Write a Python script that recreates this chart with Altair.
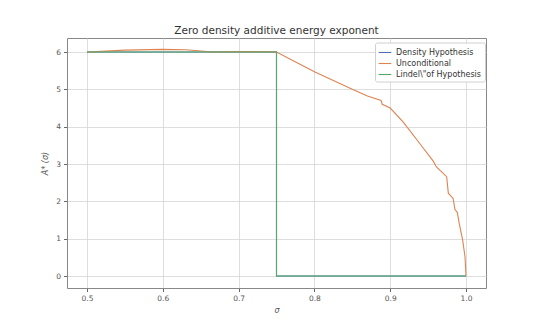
import altair as alt
import pandas as pd

# Density Hypothesis (hidden beneath the other curves)
dens_x = [0.5, 0.75, 0.75, 1.0]
dens_y = [6.0, 6.0, 0.0, 0.0]

# Unconditional
unc_x = [0.5, 0.55, 0.6, 0.63, 0.667, 0.7, 0.72, 0.75, 0.8, 0.85, 0.87, 0.888, 0.8895,
         0.9, 0.917, 0.939, 0.957, 0.961, 0.9745, 0.9767, 0.983, 0.9855, 0.9886, 0.991,
         0.9956, 0.9987, 1.0]
unc_y = [6.0, 6.05, 6.07, 6.06, 6.0, 6.01, 6.01, 6.0, 5.47, 5.0, 4.82, 4.7, 4.6,
         4.5, 4.13, 3.55, 3.07, 2.92, 2.66, 2.22, 2.08, 1.78, 1.7, 1.42,
         0.96, 0.52, 0.0]

# Lindelöf Hypothesis
lind_x = [0.5, 0.75, 0.75, 1.0]
lind_y = [6.0, 6.0, 0.0, 0.0]

series_names = ["Density Hypothesis", "Unconditional", 'Lindel\\"of Hypothesis']
colors = ["#4c72b0", "#dd8452", "#55a868"]

rows = []
for name, xs, ys in zip(series_names, [dens_x, unc_x, lind_x], [dens_y, unc_y, lind_y]):
    for i, (a, b) in enumerate(zip(xs, ys)):
        rows.append({"series": name, "sigma": a, "A": b, "ord": i})
df = pd.DataFrame(rows)

chart = alt.Chart(df).mark_line(strokeWidth=1.1).encode(
    x=alt.X("sigma:Q", title="σ",
            scale=alt.Scale(domain=[0.4736, 1.0264], nice=False, zero=False),
            axis=alt.Axis(values=[0.5, 0.6, 0.7, 0.8, 0.9, 1.0], format=".1f",
                          titleFontStyle="italic")),
    y=alt.Y("A:Q", title="A* (σ)",
            scale=alt.Scale(domain=[-0.32, 6.375], nice=False, zero=False),
            axis=alt.Axis(values=[0, 1, 2, 3, 4, 5, 6], format="d",
                          titleFontStyle="italic", titlePadding=6)),
    color=alt.Color("series:N", sort=series_names,
                    scale=alt.Scale(domain=series_names, range=colors),
                    legend=alt.Legend(title=None, orient="none", legendX=308, legendY=4.5,
                                      symbolType="stroke", symbolSize=160, symbolStrokeWidth=1.1,
                                      labelFontSize=8, labelColor="#333", labelOffset=4,
                                      fillColor="white", strokeColor="#d0d0d0",
                                      padding=3, rowPadding=0, cornerRadius=2)),
    order="ord:Q",
    detail="series:N",
).properties(
    width=419, height=250,
    title=alt.Title("Zero density additive energy exponent", fontSize=10.5,
                    fontWeight="normal", color="#333", offset=2),
    padding={"left": 67, "top": 38, "right": 54, "bottom": 36},
    autosize=alt.AutoSizeParams(type="none"),
).configure(
    font="DejaVu Sans",
).configure_view(
    stroke="#888", strokeWidth=1,
).configure_axis(
    domain=False, grid=True, gridColor="#d5d5d5", gridWidth=0.8,
    tickColor="#666", tickSize=3.5, labelFontSize=7.5, labelColor="#555",
    titleFontSize=8, titleColor="#555", titleFontWeight="normal", labelPadding=3,
)

chart.save("out.html", embed_options={"renderer": "svg", "actions": False})
